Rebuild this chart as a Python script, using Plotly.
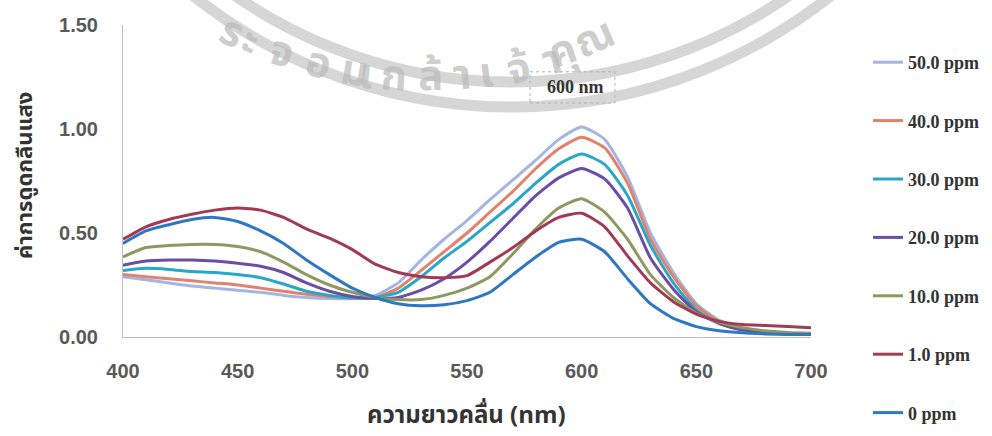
import math
import plotly.graph_objects as go

# ---------------- data ----------------
wavelength = [400, 410, 420, 430, 440, 450, 460, 470, 480, 490, 500,
              510, 520, 530, 540, 550, 560, 570, 580, 590, 600,
              610, 620, 630, 640, 650, 660, 670, 680, 690, 700]

ppm_50 = [0.29, 0.275, 0.26, 0.245, 0.235, 0.225, 0.215, 0.20, 0.19, 0.185, 0.185,
          0.20, 0.26, 0.37, 0.47, 0.56, 0.66, 0.755, 0.85, 0.95, 1.01,
          0.95, 0.77, 0.50, 0.31, 0.16, 0.08, 0.04, 0.025, 0.015, 0.012]
ppm_40 = [0.30, 0.29, 0.28, 0.27, 0.26, 0.25, 0.235, 0.22, 0.205, 0.195, 0.188,
          0.19, 0.235, 0.32, 0.41, 0.50, 0.60, 0.70, 0.81, 0.905, 0.96,
          0.91, 0.74, 0.47, 0.29, 0.15, 0.075, 0.04, 0.025, 0.015, 0.012]
ppm_30 = [0.32, 0.33, 0.325, 0.315, 0.31, 0.30, 0.285, 0.255, 0.22, 0.20, 0.188,
          0.19, 0.215, 0.29, 0.38, 0.46, 0.55, 0.64, 0.74, 0.83, 0.88,
          0.83, 0.68, 0.44, 0.26, 0.13, 0.065, 0.035, 0.022, 0.015, 0.012]
ppm_20 = [0.345, 0.365, 0.37, 0.37, 0.365, 0.355, 0.34, 0.31, 0.26, 0.22, 0.195,
          0.185, 0.19, 0.225, 0.28, 0.36, 0.46, 0.57, 0.68, 0.765, 0.81,
          0.76, 0.62, 0.38, 0.23, 0.12, 0.065, 0.035, 0.022, 0.015, 0.012]
ppm_10 = [0.385, 0.43, 0.44, 0.445, 0.445, 0.435, 0.41, 0.36, 0.30, 0.25, 0.215,
          0.19, 0.18, 0.18, 0.20, 0.235, 0.29, 0.40, 0.52, 0.62, 0.665,
          0.60, 0.47, 0.30, 0.19, 0.115, 0.07, 0.045, 0.03, 0.022, 0.018]
ppm_1 = [0.47, 0.53, 0.565, 0.59, 0.61, 0.62, 0.61, 0.575, 0.52, 0.475, 0.42,
         0.35, 0.31, 0.29, 0.285, 0.295, 0.36, 0.43, 0.51, 0.575, 0.595,
         0.53, 0.39, 0.26, 0.17, 0.11, 0.075, 0.06, 0.055, 0.05, 0.045]
ppm_0 = [0.45, 0.51, 0.54, 0.565, 0.575, 0.555, 0.51, 0.45, 0.37, 0.30, 0.235,
         0.19, 0.16, 0.15, 0.155, 0.175, 0.215, 0.30, 0.385, 0.455, 0.47,
         0.41, 0.28, 0.16, 0.09, 0.05, 0.03, 0.02, 0.015, 0.012, 0.012]

series_names = ["50.0 ppm", "40.0 ppm", "30.0 ppm", "20.0 ppm", "10.0 ppm", "1.0 ppm", "0 ppm"]
series_values = [ppm_50, ppm_40, ppm_30, ppm_20, ppm_10, ppm_1, ppm_0]
series_colors = ["#A3B5E0", "#E0826C", "#2AA7C6", "#6A4DA6", "#8C9A60", "#A03A55", "#2F77C3"]

x_ticks = [400, 450, 500, 550, 600, 650, 700]
y_ticks = [0.0, 0.5, 1.0, 1.5]
y_tick_labels = ["0.00", "0.50", "1.00", "1.50"]

x_title = "ความยาวคลื่น (nm)"
y_title = "ค่าการดูดกลืนแสง"
peak_label = "600 nm"
seal_chars = ["ร", "ะ", "จ", "อ", "ม", "เ", "ก", "ล้", "า", "เ", "จ้", "า", "คุ", "ณ"]

# ---------------- geometry helpers (pixel -> paper) ----------------
W, H = 992, 436
L, R, T, B = 123, 181, 25, 99
PW, PH = W - L - R, H - T - B


def px(xp):
    return (xp - L) / PW


def py(yp):
    return (H - B - yp) / PH


# ---------------- figure ----------------
fig = go.Figure()

for i, (name, vals, col) in enumerate(zip(series_names, series_values, series_colors)):
    fig.add_trace(go.Scatter(
        x=wavelength, y=vals, name=name, mode="lines",
        line=dict(color=col, width=3, shape="spline", smoothing=0.55),
        legendgroup=f"g{i}",
    ))

# watermark seal rings
cx, cy = 512, -405
for r in (487, 512):
    fig.add_shape(
        type="circle", xref="paper", yref="paper", layer="below",
        x0=px(cx - r), x1=px(cx + r), y0=py(cy + r), y1=py(cy - r),
        line=dict(color="rgba(200,200,200,0.75)", width=11),
    )

# watermark text along an arc
tcx, tcy, tr = 420, -472, 515
char_x = [206, 229, 258, 296, 334, 366, 394, 430, 462, 486, 518, 552, 588, 628]
for ch, xc in zip(seal_chars, char_x):
    th = math.asin((xc - tcx) / tr)
    yc = tcy + tr * math.cos(th)
    fig.add_annotation(
        x=px(xc), y=py(yc), xref="paper", yref="paper", text=f"<b>{ch}</b>",
        showarrow=False, textangle=-math.degrees(th),
        font=dict(size=42, color="rgba(185,185,185,0.7)",
                  family="Noto Sans Thai, Noto Sans, sans-serif"),
    )

# peak label with dotted box
fig.add_shape(type="rect", xref="x", yref="y", x0=577.5, x1=614.5, y0=1.125, y1=1.275,
              line=dict(color="#B0B0B0", width=1, dash="dot"))
fig.add_annotation(x=597.5, y=1.2, xref="x", yref="y", text=f"<b>{peak_label}</b>",
                   showarrow=False, font=dict(family="Liberation Serif", size=18, color="#333333"))

# axis titles
fig.add_annotation(x=px(466), y=py(435), xref="paper", yref="paper",
                   xanchor="center", yanchor="bottom", borderpad=0,
                   text=f"<b>{x_title}</b>", showarrow=False,
                   font=dict(family="Noto Sans Thai, Noto Sans, sans-serif", size=24, color="#333333"))
fig.add_annotation(x=px(26), y=py(176), xref="paper", yref="paper", textangle=-90,
                   xanchor="center", yanchor="middle",
                   text=f"<b>{y_title}</b>", showarrow=False,
                   font=dict(family="Noto Sans Thai, Noto Sans, sans-serif", size=22, color="#333333"))

tickfont = dict(family="Liberation Sans", size=20, color="#595959", weight="bold")

fig.update_layout(
    width=W, height=H,
    margin=dict(l=L, r=R, t=T, b=B, autoexpand=False),
    paper_bgcolor="white", plot_bgcolor="white",
    showlegend=True,
    legend=dict(x=px(868), xanchor="left", y=py(44), yanchor="top",
                xref="paper", yref="paper", maxheight=436,
                font=dict(family="Liberation Serif", size=18, color="#333333", weight="bold"),
                tracegroupgap=32, bgcolor="rgba(0,0,0,0)"),
    xaxis=dict(range=[400, 700], tickmode="array", tickvals=x_ticks,
               showgrid=False, zeroline=False, showline=True, linecolor="#BFBFBF", linewidth=1,
               ticks="", ticklabelstandoff=16, tickfont=tickfont),
    yaxis=dict(range=[0, 1.5], tickmode="array", tickvals=y_ticks, ticktext=y_tick_labels,
               showgrid=False, zeroline=False, showline=True, linecolor="#BFBFBF", linewidth=1,
               ticks="", ticklabelstandoff=20, tickfont=tickfont),
)

fig.write_html("out.html", config={"displayModeBar": False},
               post_script="document.body.style.margin='0px';document.body.style.overflow='hidden';")
